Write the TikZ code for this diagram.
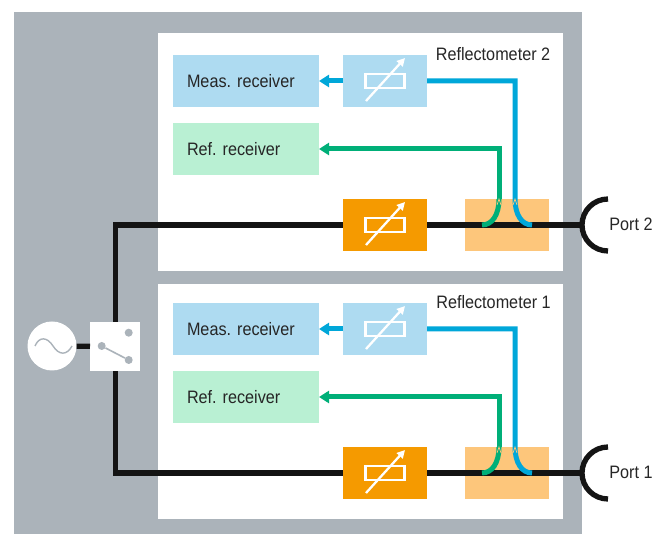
\documentclass[tikz,border=0pt]{standalone}
\usepackage{fontspec}
\setmainfont{Liberation Sans}[FakeStretch=0.9]
\usepackage{xcolor}
\usetikzlibrary{arrows.meta, positioning}

\definecolor{panelgray}{HTML}{ABB3BA}
\definecolor{lightblue}{HTML}{AEDBF1}
\definecolor{lightgreen}{HTML}{B9F0D3}
\definecolor{attorange}{HTML}{F59A00}
\definecolor{lightorange}{HTML}{FDC67B}
\definecolor{lineblue}{HTML}{00A7D9}
\definecolor{linegreen}{HTML}{00AF78}
\definecolor{wireblack}{HTML}{141414}

\frenchspacing
\tikzset{
	lbl/.style		= {font=\fontsize{18}{20}\selectfont, text=black!85},
	block/.style		= {rectangle, inner sep=0pt, outer sep=0pt, minimum width=84pt, minimum height=52pt},
	recv/.style		= {block, lbl, minimum width=146pt, text width=118pt, align=left},
	wire/.style		= {line width=5.3pt, wireblack},
	bluewire/.style	= {line width=5pt, lineblue},
	greenwire/.style	= {line width=5pt, linegreen},
	notch/.style		= {line width=0.7pt, lightorange},
	tip/.style		= {-{Triangle[length=10pt, width=12pt]}},
	swdot/.style		= {circle, fill=panelgray, inner sep=0pt, minimum size=8pt},
	attsym/.pic		= {
		\draw[white, line width=2.3pt] (-19.5,-7) rectangle (19.5,7);
		\draw[white, line width=2.3pt, -{Triangle[length=8pt, width=8pt]}] (-19,-20) -- (20,23);
	}
}

\begin{document}
\begin{tikzpicture}[x=1pt, y=1pt]
\useasboundingbox (0,0) rectangle (663,534);

\node[rectangle, fill=panelgray, minimum width=568pt, minimum height=522pt, inner sep=0pt]	(panel)	at (298,261)	{};
\node[rectangle, fill=white, minimum width=405pt, minimum height=238pt, inner sep=0pt]	(refl2)	at (360.5,382)	{};
\node[rectangle, fill=white, minimum width=405pt, minimum height=235pt, inner sep=0pt]	(refl1)	at (360.5,132.5)	{};

% upper reflectometer
\node[recv, fill=lightblue]		(meas2)	at (246,453)				{Meas. receiver};
\node[recv, fill=lightgreen]		(ref2)	[below=16pt of meas2]		{Ref. receiver};
\node[block, fill=lightblue]		(var2)	[right=24pt of meas2]		{};
\node[block, fill=attorange]		(att2)	at (385,309)				{};
\node[block, fill=lightorange]	(cpl2)	[right=38pt of att2]		{};
\node[lbl]						(name2)	at (493,480)				{Reflectometer 2};
\node[lbl]						(lbl2)	at (631,310)				{Port 2};

% lower reflectometer
\node[recv, fill=lightblue]		(meas1)	at (246,205)				{Meas. receiver};
\node[recv, fill=lightgreen]		(ref1)	[below=16pt of meas1]		{Ref. receiver};
\node[block, fill=lightblue]		(var1)	[right=24pt of meas1]		{};
\node[block, fill=attorange]		(att1)	at (385,61)				{};
\node[block, fill=lightorange]	(cpl1)	[right=38pt of att1]		{};
\node[lbl]						(name1)	at (493.5,232)			{Reflectometer 1};
\node[lbl]						(lbl1)	at (631,62)				{Port 1};

% source and switch
\node[circle, fill=white, minimum size=49pt, inner sep=0pt]	(src)	at (52,188)		{};
\node[rectangle, fill=white, minimum width=50pt, minimum height=49pt, inner sep=0pt]	(sw)	at (115.2,187.5)	{};
\node[swdot]	(swa)	at (101.7,188)	{};
\node[swdot]	(swb)	at (128.7,201.3)	{};
\node[swdot]	(swc)	at (128.7,174)	{};
\draw[panelgray, line width=1.6pt] (swa) -- (swc);
\draw[panelgray, line width=1.4pt] (35,188) .. controls (39,197.5) and (47,197.5) .. (53,188) .. controls (59,178.5) and (67,178.5) .. (72,188);

\coordinate (port2) at (582,309);
\coordinate (port1) at (582,61);
\coordinate (arc2) at (608,335);
\coordinate (arc1) at (608,87);

\draw[wire] (src) -- (sw);
\draw[wire] (sw.north) |- (att2.west);
\draw[wire] (sw.south) |- (att1.west);
\draw[wire] (att2.east) -- (port2);
\draw[wire] (att1.east) -- (port1);
\draw[wire] (arc2) arc[start angle=90, end angle=270, radius=26];
\draw[wire] (arc1) arc[start angle=90, end angle=270, radius=26];

\draw[bluewire, tip] (var2) -- (meas2);
\draw[bluewire, tip] (var1) -- (meas1);
\draw[bluewire]  (var2.east) -| (515,335) .. controls (515,319) and (522,309) .. (532,309);
\draw[bluewire]  (var1.east) -| (515,87) .. controls (515,71) and (522,61) .. (532,61);
\draw[greenwire, tip] (499,335) |- (ref2.east);
\draw[greenwire, tip] (499,87) |- (ref1.east);
\draw[greenwire] (499,335) .. controls (499,319) and (492,309) .. (482,309);
\draw[greenwire] (499,87) .. controls (499,71) and (492,61) .. (482,61);
\foreach \x in {499,515}{
	\draw[notch] (\x-2,329) -- (\x,335) -- (\x+2,329);
	\draw[notch] (\x-2,81) -- (\x,87) -- (\x+2,81);
}

\path (var2) pic {attsym};
\path (att2) pic {attsym};
\path (var1) pic {attsym};
\path (att1) pic {attsym};
\end{tikzpicture}
\end{document}
